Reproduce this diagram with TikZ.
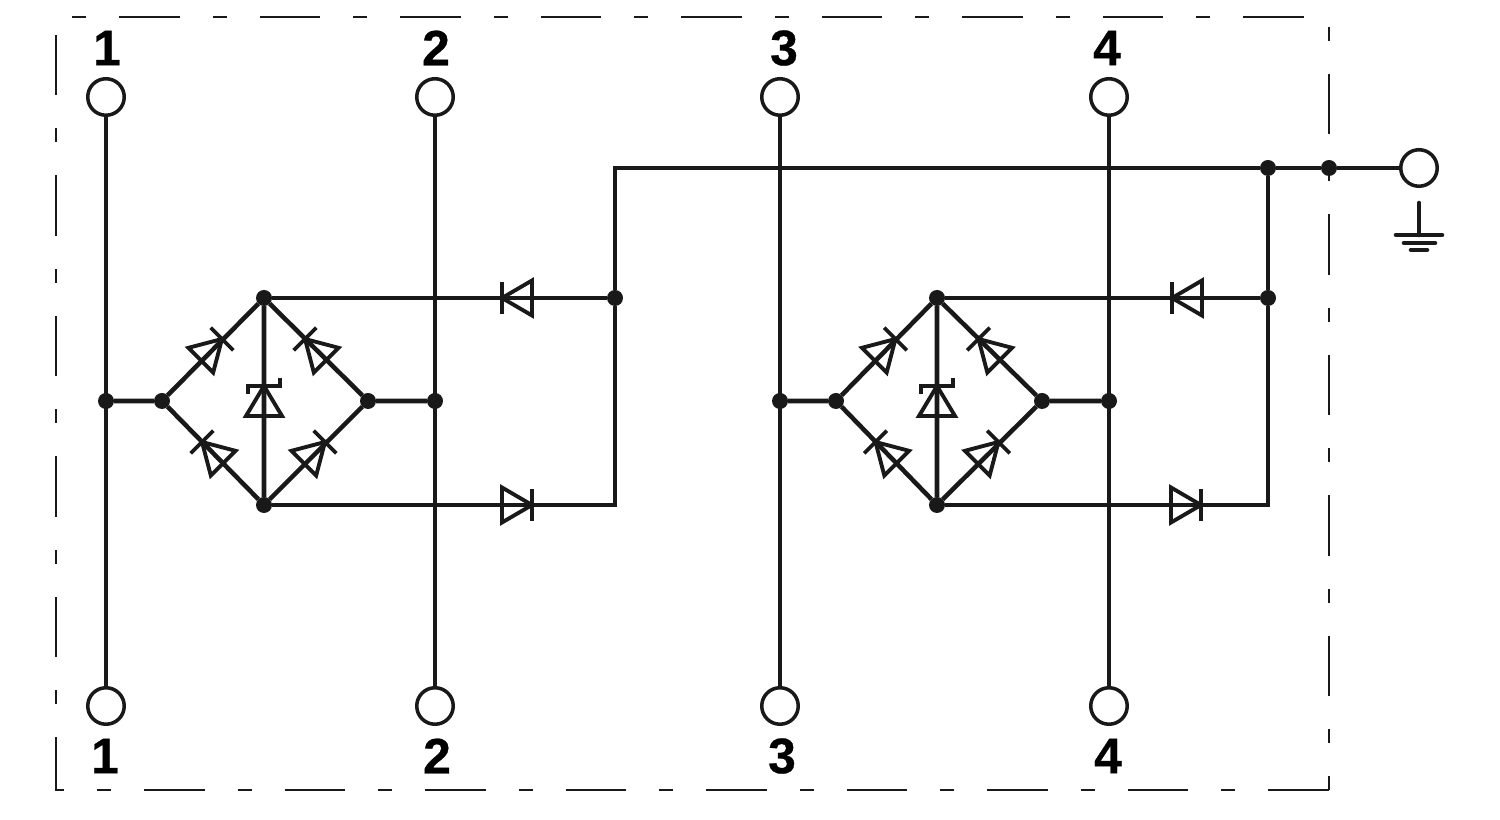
\documentclass[tikz,border=0pt]{standalone}
\usepackage{fontspec}
\setmainfont{Liberation Sans}[BoldFeatures={FakeBold=0.5}]
\tikzset{
 wire/.style={line width=1.3pt,black!90},
 frame/.style={line width=.6pt,black!90,dash pattern=on .14cm off .33cm on .605cm off .33cm},
 term/.style={circle,draw=black!90,fill=white,line width=1pt,inner sep=0pt,minimum size=.365cm},
 dot/.style={circle,fill=black!90,inner sep=0pt,outer sep=0pt,minimum size=.16cm},
 lab/.style={inner sep=0pt,font=\fontsize{14.2}{14.2}\selectfont\bfseries},
 diode/.pic={
  \draw[line width=1.1pt,black!90,line join=miter] (0,0) -- (-.3,.175) -- (-.3,-.175) -- cycle;
  \draw[line width=1.1pt,black!90] (0,-.16) -- (0,.16);
 },
 zener/.pic={
  \draw[line width=1.1pt,black!90,line join=miter] (0,0) -- (-.3,.18) -- (-.3,-.18) -- cycle;
  \draw[line width=1.1pt,black!90] (-.08,.16) -- (0,.16) -- (0,-.16) -- (.08,-.16);
 }
}
\begin{document}
\begin{tikzpicture}[>=latex]
\useasboundingbox (0,0) rectangle (15,8.2);
%
\node[term] (t1) at (1.06,7.23) {};
\node[term] (t2) at (4.35,7.23) {};
\node[term] (t3) at (7.80,7.23) {};
\node[term] (t4) at (11.09,7.23) {};
\node[term] (b1) at (1.06,1.14) {};
\node[term] (b2) at (4.35,1.14) {};
\node[term] (b3) at (7.80,1.14) {};
\node[term] (b4) at (11.09,1.14) {};
\node[term] (pe) at (14.19,6.52) {};
%
\node[lab] (lt1) at (1.07,7.72) {1};
\node[lab] (lt2) at (4.36,7.72) {2};
\node[lab] (lt3) at (7.84,7.72) {3};
\node[lab] (lt4) at (11.07,7.72) {4};
\node[lab] (lb1) at (1.05,.64) {1};
\node[lab] (lb2) at (4.37,.64) {2};
\node[lab] (lb3) at (7.82,.64) {3};
\node[lab] (lb4) at (11.08,.64) {4};
%
\node[dot] (m1) at (1.06,4.19) {};
\node[dot] (l1) at (1.62,4.19) {};
\node[dot] (u1) at (2.64,5.22) {};
\node[dot] (r1) at (3.68,4.19) {};
\node[dot] (d1) at (2.64,3.15) {};
\node[dot] (m2) at (4.35,4.19) {};
\node[dot] (g1) at (6.15,5.22) {};
\coordinate (c1) at (6.15,3.15);
\coordinate (c0) at (6.15,6.52);
%
\node[dot] (m3) at (7.80,4.19) {};
\node[dot] (l2) at (8.36,4.19) {};
\node[dot] (u2) at (9.37,5.22) {};
\node[dot] (r2) at (10.42,4.19) {};
\node[dot] (d2) at (9.37,3.15) {};
\node[dot] (m4) at (11.09,4.19) {};
\node[dot] (g2) at (12.68,5.22) {};
\coordinate (c2) at (12.68,3.15);
%
\node[dot] (j1) at (12.68,6.52) {};
\node[dot] (j2) at (13.29,6.52) {};
%
\draw[wire] (t1) -- (b1) (t2) -- (b2) (t3) -- (b3) (t4) -- (b4);
\draw[wire] (m1) -- (l1) -- (u1) -- (r1) -- (d1) -- (l1) (u1) -- (d1) (r1) -- (m2);
\draw[wire] (m3) -- (l2) -- (u2) -- (r2) -- (d2) -- (l2) (u2) -- (d2) (r2) -- (m4);
\draw[wire] (u1) -- (g1) (d1) -- (c1) -- (g1) -- (c0) -- (j1) -- (j2) -- (pe);
\draw[wire] (u2) -- (g2) (d2) -- (c2) -- (g2) -- (j1);
%
\pic[rotate=45] at (2.22,4.81) {diode};
\pic[rotate=135] at (3.05,4.81) {diode};
\pic[rotate=135] at (2.02,3.78) {diode};
\pic[rotate=45] at (3.25,3.78) {diode};
\pic[rotate=90] at (2.64,4.34) {zener};
\pic[rotate=180] at (5.02,5.22) {diode};
\pic at (5.32,3.15) {diode};
%
\pic[rotate=45] at (8.955,4.81) {diode};
\pic[rotate=135] at (9.785,4.81) {diode};
\pic[rotate=135] at (8.755,3.78) {diode};
\pic[rotate=45] at (9.985,3.78) {diode};
\pic[rotate=90] at (9.37,4.34) {zener};
\pic[rotate=180] at (11.72,5.22) {diode};
\pic at (12.01,3.15) {diode};
%% earth symbol
\coordinate (e0) at (14.19,6.17);
\coordinate (e1) at (14.19,5.85);
\coordinate (e2) at (13.96,5.85);
\coordinate (e3) at (14.42,5.85);
\coordinate (e4) at (14.04,5.77);
\coordinate (e5) at (14.35,5.77);
\coordinate (e6) at (14.11,5.70);
\coordinate (e7) at (14.27,5.70);
\draw[wire,line cap=round] (e0) -- (e1) (e2) -- (e3) (e4) -- (e5) (e6) -- (e7);
%% dashed box
\coordinate (f0) at (.72,8.03);
\coordinate (f1) at (13.05,8.03);
\coordinate (f2) at (13.29,7.93);
\coordinate (f3) at (13.29,.30);
\coordinate (f4) at (.97,.30);
\coordinate (f5) at (.56,7.85);
\coordinate (f6) at (.56,.30);
\coordinate (f7) at (.64,.30);
\draw[frame] (f0) -- (f1);
\draw[frame] (f2) -- (f3);
\draw[frame] (f4) -- (f3);
\draw[frame,dash phase=.47cm,line join=miter] (f5) -- (f6) -- (f7);
\end{tikzpicture}
\end{document}
